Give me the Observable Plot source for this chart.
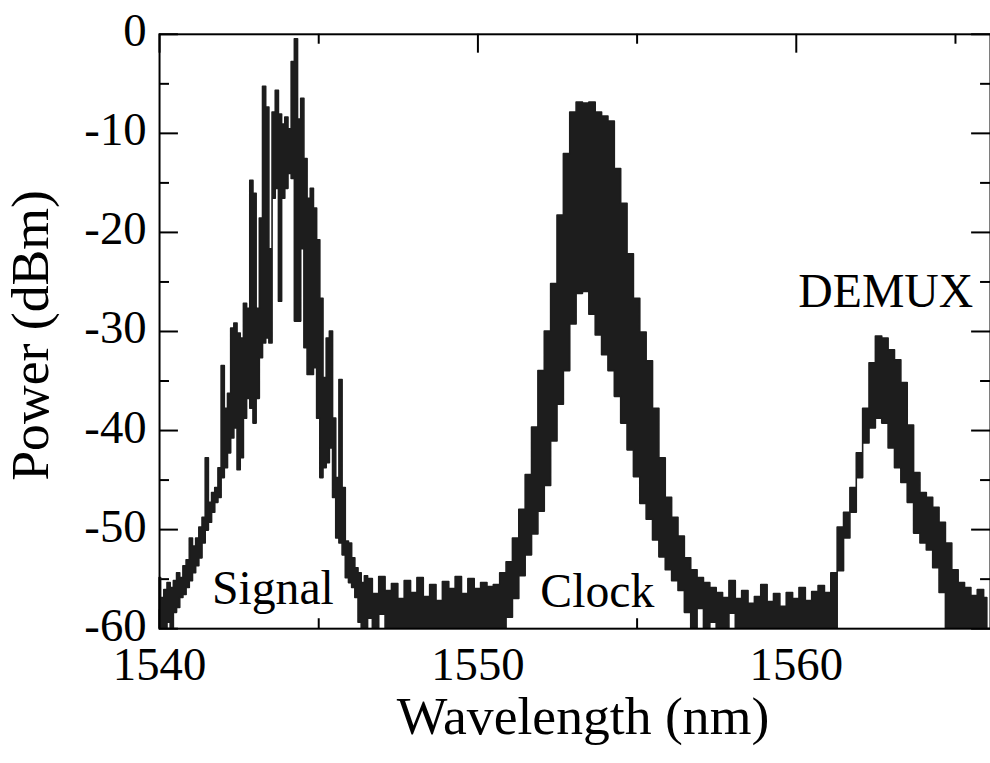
<!DOCTYPE html>
<html>
<head>
<meta charset="utf-8">
<script src="https://cdn.jsdelivr.net/npm/d3@7"></script>
<script src="https://cdn.jsdelivr.net/npm/@observablehq/plot@0.6"></script>
<style>
  html, body { margin: 0; padding: 0; background: #fff; overflow: hidden; }
  #chart svg { display: block; }
</style>
</head>
<body>
<div id="chart"></div>
<script>
// Optical spectrum: each sample keeps the upper and lower envelope of the
// densely modulated OSA trace (dBm) at a given wavelength (nm).

// Signal pulse train
const signalNm = [
  1540.0, 1540.1, 1540.2, 1540.3, 1540.4, 1540.5, 1540.6, 1540.7, 1540.8, 1540.9,
  1541.0, 1541.1, 1541.2, 1541.3, 1541.4, 1541.5, 1541.6, 1541.7, 1541.8, 1541.9,
  1542.0, 1542.1, 1542.2, 1542.3, 1542.4, 1542.5, 1542.6, 1542.7, 1542.8, 1542.9,
  1543.0, 1543.1, 1543.2, 1543.3, 1543.4, 1543.5, 1543.6, 1543.7, 1543.8, 1543.9,
  1544.0, 1544.1, 1544.2, 1544.3, 1544.4, 1544.5, 1544.6, 1544.7, 1544.8, 1544.9,
  1545.0, 1545.1, 1545.2, 1545.3, 1545.4, 1545.5, 1545.6, 1545.7, 1545.8, 1545.9,
  1546.0, 1546.1, 1546.2, 1546.3, 1546.4, 1546.5
];
const signalUpper = [
  -54.9, -56.9, -56.1, -55.4, -55.9, -55.2, -54.4, -54.9, -53.7, -53.1,
  -50.9, -51.7, -50.9, -49.8, -48.8, -42.8, -47.3, -46.3, -45.8, -43.8,
  -33.5, -37.8, -36.3, -29.7, -29.2, -30.2, -30.7, -27.2, -27.7, -14.8,
  -16.1, -27.7, -18.6, -5.3, -7.4, -21.7, -7.9, -5.7, -8.1, -9.1,
  -8.4, -9.6, -2.8, -0.5, -8.6, -6.5, -12.6, -16.6, -15.6, -17.6,
  -20.8, -26.7, -34.7, -30.7, -30.0, -38.8, -44.8, -34.9, -45.8, -51.2,
  -51.4, -52.9, -53.9, -54.4, -55.4, -54.7
];
const signalLower = [
  -60, -60, -60, -59.4, -60, -58.4, -57.9, -56.9, -56.6, -55.9,
  -55.2, -54.4, -53.7, -52.9, -51.4, -50.1, -49.3, -48.3, -47.3, -46.8,
  -44.8, -43.8, -42.3, -40.8, -39.8, -44.0, -42.8, -38.8, -36.8, -37.8,
  -39.3, -36.8, -32.7, -31.2, -30.7, -31.2, -16.6, -15.6, -27.0, -16.6,
  -15.6, -14.1, -14.6, -29.0, -29.0, -21.7, -31.7, -34.4, -34.4, -33.7,
  -38.8, -44.8, -43.8, -43.3, -41.8, -46.8, -50.9, -51.4, -52.6, -54.9,
  -55.4, -55.9, -56.9, -59.4, -60, -60
];

// Noise floor between signal and clock
const floorANm = [
  1546.6, 1546.8, 1547.0, 1547.2, 1547.4, 1547.6, 1547.8, 1548.0, 1548.2, 1548.4,
  1548.6, 1548.8, 1549.0, 1549.2, 1549.4, 1549.6, 1549.8, 1550.0, 1550.2, 1550.4
];
const floorAUpper = [
  -55.0, -56.5, -54.8, -56.2, -55.5, -57.0, -55.2, -56.4, -54.9, -56.8,
  -55.6, -57.2, -55.3, -56.0, -54.8, -56.5, -55.0, -56.0, -55.4, -55.8
];
const floorALower = [
  -59.0, -60, -58.6, -60, -60, -60, -60, -60, -60, -60,
  -60, -60, -60, -60, -60, -60, -60, -60, -60, -60
];

// Clock
const clockNm = [
  1550.6, 1550.8, 1551.0, 1551.2, 1551.4, 1551.6, 1551.8, 1552.0, 1552.2, 1552.4,
  1552.6, 1552.8, 1553.0, 1553.2, 1553.4, 1553.6, 1553.8, 1554.0, 1554.2, 1554.4,
  1554.6, 1554.8, 1555.0, 1555.2, 1555.4, 1555.6, 1555.8, 1556.0, 1556.2, 1556.4,
  1556.6, 1556.8, 1557.0, 1557.2, 1557.4, 1557.6, 1557.8
];
const clockUpper = [
  -55.6, -54.4, -53.3, -50.9, -48.0, -44.5, -39.7, -34.0, -30.0, -25.2,
  -18.3, -12.1, -7.9, -6.9, -7.0, -6.9, -7.9, -8.3, -8.8, -13.6,
  -17.1, -22.2, -26.7, -30.1, -33.0, -37.8, -42.8, -46.8, -48.8, -50.7,
  -52.9, -54.1, -54.9, -55.4, -55.9, -56.4, -56.9
];
const clockLower = [
  -60, -60, -58.9, -57.0, -54.7, -52.6, -50.5, -48.2, -45.6, -41.1,
  -37.4, -34.0, -29.3, -26.2, -26.0, -28.3, -30.4, -32.4, -34.0, -36.6,
  -39.3, -42.0, -44.7, -47.4, -49.0, -51.1, -52.8, -54.1, -55.2, -56.2,
  -58.4, -60, -58.0, -60, -59.4, -60, -60
];

// Noise floor between clock and demultiplexed output
const floorBNm = [
  1558.0, 1558.2, 1558.4, 1558.6, 1558.8, 1559.0, 1559.2, 1559.4, 1559.6, 1559.8,
  1560.0, 1560.2, 1560.4, 1560.6, 1560.8
];
const floorBUpper = [
  -55.2, -57.0, -56.2, -57.5, -56.8, -55.6, -57.3, -56.5, -57.8, -56.4,
  -57.0, -55.9, -57.2, -56.3, -55.7
];
const floorBLower = [
  -58.5, -60, -60, -60, -60, -60, -60, -60, -60, -60,
  -60, -60, -60, -60, -60
];

// Demultiplexed output
const demuxNm = [
  1561.0, 1561.2, 1561.4, 1561.6, 1561.8, 1562.0, 1562.2, 1562.4, 1562.6, 1562.8,
  1563.0, 1563.2, 1563.4, 1563.6, 1563.8, 1564.0, 1564.2, 1564.4, 1564.6, 1564.8,
  1565.0, 1565.2, 1565.4, 1565.6, 1565.8, 1566.0
];
const demuxUpper = [
  -56.4, -54.4, -49.8, -48.3, -45.8, -42.3, -37.8, -33.2, -30.5, -30.7,
  -31.9, -32.9, -35.2, -39.5, -44.3, -46.3, -46.8, -47.8, -49.3, -51.4,
  -54.1, -55.4, -55.9, -56.7, -56.1, -56.9
];
const demuxLower = [
  -60, -60, -54.2, -50.9, -48.3, -44.8, -41.3, -39.8, -38.8, -39.3,
  -41.8, -43.8, -45.3, -47.3, -50.4, -51.4, -52.1, -53.9, -56.4, -60,
  -60, -60, -60, -60, -60, -60
];

// Axis ticks and annotations
const xMajorTicks = [1540, 1550, 1560];
const xMinorTicks = [1545, 1555, 1565];
const yMajorTicks = [0, -10, -20, -30, -40, -50, -60];
const yMinorTicks = [-5, -15, -25, -35, -45, -55];
const peakLabels = ["Signal", "Clock", "DEMUX"];
const peakLabelNm = [1543.56, 1553.75, 1562.81];
const peakLabelDbm = [-57.5, -57.8, -27.5];

const segments = [
  [signalNm, signalUpper, signalLower],
  [floorANm, floorAUpper, floorALower],
  [clockNm, clockUpper, clockLower],
  [floorBNm, floorBUpper, floorBLower],
  [demuxNm, demuxUpper, demuxLower]
];
const spectrum = segments.flatMap(([nm, up, lo]) =>
  nm.map((d, i) => ({nm: d, upper: up[i], lower: lo[i]}))
);
const annotations = peakLabels.map((t, i) => ({text: t, nm: peakLabelNm[i], dbm: peakLabelDbm[i]}));

const W = 996, H = 763;
const mL = 160, mR = 0, mT = 34, mB = 131;
const plotW = W - mL - mR, plotH = H - mT - mB;
const major = 19, minor = 10;
const ink = "#1d1d1d";
const serif = "'Liberation Serif', 'Times New Roman', serif";

const chart = Plot.plot({
  width: W,
  height: H,
  marginLeft: mL,
  marginRight: mR,
  marginTop: mT,
  marginBottom: mB,
  x: {domain: [1540, 1566.1], label: null},
  y: {domain: [-60, 0], label: null},
  style: {fontFamily: serif, fontSize: "47px", background: "#fff", color: "#000"},
  marks: [
    // inward ticks on all four sides
    Plot.tickY(yMajorTicks, {y: d => d, insetRight: plotW - major, stroke: "#000", strokeWidth: 2}),
    Plot.tickY(yMinorTicks, {y: d => d, insetRight: plotW - minor, stroke: "#000", strokeWidth: 2}),
    Plot.tickY(yMajorTicks, {y: d => d, insetLeft: plotW - major, stroke: "#000", strokeWidth: 2}),
    Plot.tickY(yMinorTicks, {y: d => d, insetLeft: plotW - minor, stroke: "#000", strokeWidth: 2}),
    Plot.tickX(xMajorTicks, {x: d => d, insetBottom: plotH - major, stroke: "#000", strokeWidth: 2}),
    Plot.tickX(xMinorTicks, {x: d => d, insetBottom: plotH - minor, stroke: "#000", strokeWidth: 2}),
    Plot.tickX(xMajorTicks, {x: d => d, insetTop: plotH - major, stroke: "#000", strokeWidth: 2}),
    Plot.tickX(xMinorTicks, {x: d => d, insetTop: plotH - minor, stroke: "#000", strokeWidth: 2}),

    // spectrum trace
    Plot.areaY(spectrum, {
      x: "nm", y1: "lower", y2: "upper", curve: "step",
      fill: ink, stroke: ink, strokeWidth: 1.6
    }),

    Plot.frame({stroke: "#000", strokeWidth: 2}),

    // tick labels
    Plot.axisX({
      anchor: "bottom", ticks: xMajorTicks, tickSize: 0, tickPadding: 18,
      tickFormat: d => String(d), label: null, fontSize: 47
    }),
    Plot.axisY({
      anchor: "left", ticks: yMajorTicks, tickSize: 0, tickPadding: 13,
      tickFormat: d => String(d), label: null, fontSize: 47, dy: -3
    }),

    // axis titles
    Plot.text(["Wavelength (nm)"], {
      text: d => d, frameAnchor: "bottom", textAnchor: "middle", lineAnchor: "bottom",
      dx: 8, dy: 106, fontSize: 54, fill: "#000"
    }),
    Plot.text(["Power (dBm)"], {
      text: d => d, frameAnchor: "left", textAnchor: "middle", lineAnchor: "bottom", rotate: -90,
      dx: -112, dy: 4, fontSize: 54, fill: "#000"
    }),

    // peak labels
    Plot.text(annotations, {
      x: "nm", y: "dbm", text: "text", textAnchor: "middle", lineAnchor: "bottom",
      fontSize: 48, fill: "#000"
    })
  ]
});

document.getElementById("chart").appendChild(chart);
</script>
</body>
</html>
